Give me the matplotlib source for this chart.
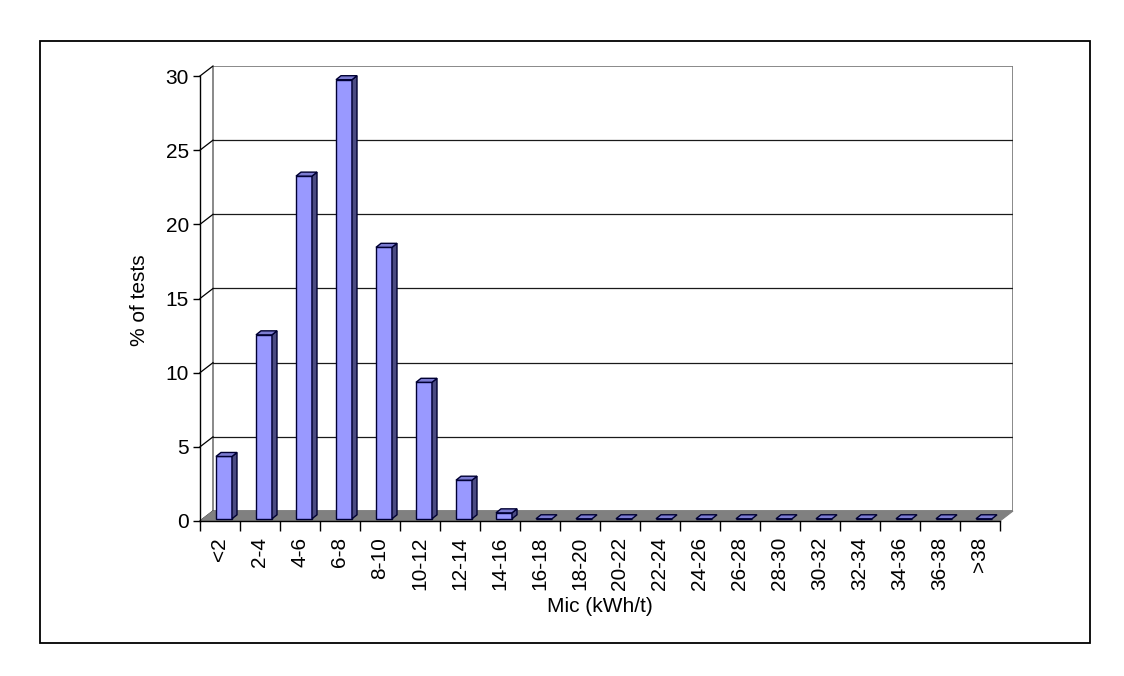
#!/usr/bin/env python3
"""
Histogram of Mic test results drawn in the old 3D column style
"""

import matplotlib
matplotlib.use('Agg')
import matplotlib.pyplot as plt
from matplotlib.patches import Polygon, Rectangle

# data
categories = ['<2', '2-4', '4-6', '6-8', '8-10', '10-12', '12-14', '14-16',
              '16-18', '18-20', '20-22', '22-24', '24-26', '26-28', '28-30',
              '30-32', '32-34', '34-36', '36-38', '>38']
pct_tests = [4.2, 12.4, 23.1, 29.6, 18.3, 9.2, 2.6, 0.4,
             0, 0, 0, 0, 0, 0, 0, 0, 0, 0, 0, 0]
y_ticks = [0, 5, 10, 15, 20, 25, 30]

# depth of wall/floor in data units (13 px right, 10 px up)
DX = 13 / 40
DY = 10 / 14.833
# bar geometry
BAR_W = 0.4
BAR_SHIFT = 0.1
BAR_BASE = 0.15
BAR_DX = 5 / 40
BAR_DY = 4 / 14.833

FRONT = '#9999FF'
SIDE = '#4B4B82'
TOP = '#7C7CD2'
EDGE = '#000033'
FS = 15

plt.rcParams['font.family'] = ['Liberation Sans', 'DejaVu Sans']

W, H = 1124, 676
fig = plt.figure(figsize=(W / 100, H / 100), dpi=100)
ax = fig.add_axes([200 / W, 155 / H, 813 / W, 455 / H])

n = len(categories)
x_lo, x_hi = -0.5, n - 0.5
y_top = y_ticks[-1]

ax.set_xlim(x_lo, x_hi + DX)
ax.set_ylim(0, y_top + DY)

# back wall and gridlines
ax.add_patch(Polygon([(x_lo + DX, DY), (x_hi + DX, DY), (x_hi + DX, y_top + DY),
                      (x_lo + DX, y_top + DY)], closed=True, facecolor='white',
                     edgecolor='#808080', lw=1.3, zorder=0))
for v in y_ticks[1:-1]:
    ax.plot([x_lo + DX, x_hi + DX], [v + DY, v + DY], color='#1a1a1a', lw=0.9, zorder=1)
# diagonal tick connectors from the axis to the wall
for v in y_ticks:
    ax.plot([x_lo, x_lo + DX], [v, v + DY], color='black', lw=0.9, zorder=1,
            clip_on=False)

# floor
ax.add_patch(Polygon([(x_lo, 0), (x_hi, 0), (x_hi + DX, DY), (x_lo + DX, DY)],
                     closed=True, facecolor='#808080', edgecolor='#808080',
                     lw=0.8, zorder=2, clip_on=False))

# bars
xs = [i + BAR_SHIFT for i in range(n)]
ax.bar(xs, pct_tests, width=BAR_W, bottom=BAR_BASE, color=FRONT,
       edgecolor=EDGE, linewidth=1.0, zorder=3)
for x, v in zip(xs, pct_tests):
    x0, x1 = x - BAR_W / 2, x + BAR_W / 2
    top = BAR_BASE + v
    if v > 0:
        ax.add_patch(Polygon([(x1, BAR_BASE), (x1 + BAR_DX, BAR_BASE + BAR_DY),
                              (x1 + BAR_DX, top + BAR_DY), (x1, top)], closed=True,
                             facecolor=SIDE, edgecolor=EDGE, lw=1.0, zorder=3))
    ax.add_patch(Polygon([(x0, top), (x1, top), (x1 + BAR_DX, top + BAR_DY),
                          (x0 + BAR_DX, top + BAR_DY)], closed=True,
                         facecolor=TOP, edgecolor=EDGE, lw=1.0, zorder=4))

# axes styling
for s in ['top', 'right']:
    ax.spines[s].set_visible(False)
ax.spines['left'].set_bounds(0, y_top)
ax.spines['bottom'].set_bounds(x_lo, x_hi)
for s in ['left', 'bottom']:
    ax.spines[s].set_linewidth(1.0)
    ax.spines[s].set_zorder(5)

ax.set_yticks(y_ticks)
ax.set_yticklabels([str(v) for v in y_ticks])
ax.tick_params(axis='y', length=5, width=1.0, pad=3, labelsize=FS)

ax.set_xticks(range(n))
ax.set_xticklabels(categories, rotation=90)
ax.set_xticks([i - 0.5 for i in range(n + 1)], minor=True)
ax.tick_params(axis='x', which='major', length=0, pad=11.5, labelsize=FS)
ax.tick_params(axis='x', which='minor', length=7, width=1.0)

ax.set_ylabel('% of tests', fontsize=FS)
ax.set_xlabel('Mic (kWh/t)', fontsize=FS)
ax.xaxis.set_label_coords((600 - 200) / 813, -(597 - 521) / 455)
ax.yaxis.set_label_coords(-(200 - 149) / 813, (521 - 300) / 455)

# outer frame
fig.patches.append(Rectangle((40 / W, 1 - 643 / H), (1090 - 40) / W, (643 - 41) / H,
                             transform=fig.transFigure, fill=False,
                             edgecolor='black', lw=1.3))

fig.savefig('out.png', dpi=100)
